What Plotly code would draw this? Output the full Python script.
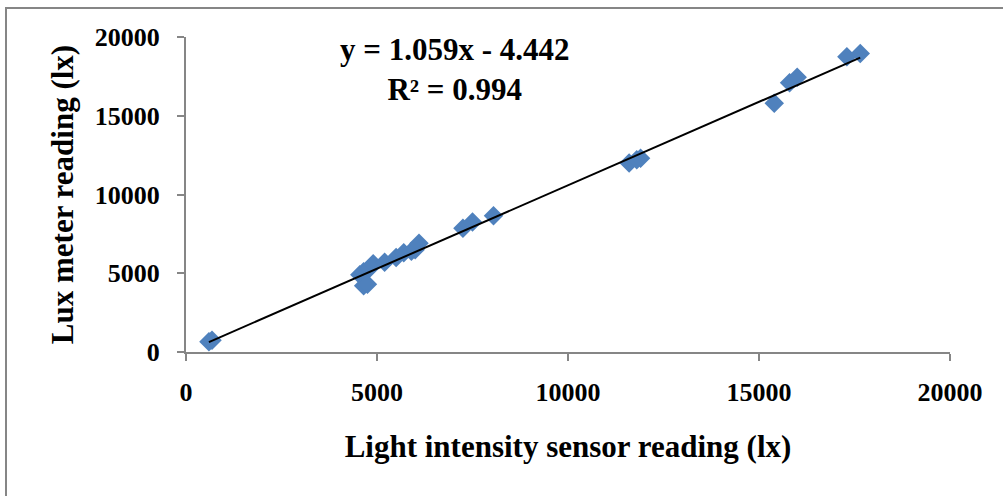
import plotly.graph_objects as go

# Calibration readings: light intensity sensor vs. lux meter (lx)
sensor_lx = [600, 680, 4550, 4650, 4650, 4750, 4800, 4900, 5200, 5500,
             5700, 5900, 6000, 6100, 7250, 7500, 8050, 11600, 11800, 11900,
             15400, 15800, 16000, 17300, 17650]
luxmeter_lx = [650, 750, 4900, 5100, 4200, 4300, 5300, 5600, 5700, 6000,
               6300, 6400, 6500, 6900, 7850, 8250, 8650, 12000, 12200, 12300,
               15800, 17100, 17450, 18750, 18950]

# Linear trendline coefficients
slope = 1.059
intercept = -4.442
r_squared = 0.994

x_ticks = [0, 5000, 10000, 15000, 20000]
y_ticks = [0, 5000, 10000, 15000, 20000]

fit_x = [min(sensor_lx), max(sensor_lx)]
fit_y = [slope * v + intercept for v in fit_x]

font_family = "Liberation Serif, Times New Roman, serif"

fig = go.Figure()
fig.add_trace(go.Scatter(
    x=sensor_lx, y=luxmeter_lx, mode="markers",
    marker=dict(symbol="diamond", size=15, color="#4F81BD",
                line=dict(width=0)),
    showlegend=False,
))
fig.add_trace(go.Scatter(
    x=fit_x, y=fit_y, mode="lines",
    line=dict(color="black", width=2),
    showlegend=False,
))

axis_common = dict(
    showgrid=False, zeroline=False, showline=True,
    linecolor="#868686", linewidth=2,
    ticks="outside", ticklen=7, tickwidth=2, tickcolor="#868686",
    tickfont=dict(family=font_family, size=26, color="black", weight="bold"),
)

fig.update_xaxes(
    range=[0, 20000], tickvals=x_ticks,
    ticktext=[f"<b>{v}</b>" for v in x_ticks],
    ticklabelstandoff=9,
    title=dict(text="<b>Light intensity sensor reading (lx)</b>",
               font=dict(family=font_family, size=31, color="black"),
               standoff=29),
    **axis_common,
)
fig.update_yaxes(
    range=[0, 20000], tickvals=y_ticks,
    ticktext=[f"<b>{v}</b>" for v in y_ticks],
    ticklabelstandoff=12,
    title=dict(text="<b>Lux meter reading (lx)</b>",
               font=dict(family=font_family, size=31, color="black"),
               standoff=12),
    **axis_common,
)

fig.add_annotation(
    xref="x", yref="y", x=7050, y=17950, yanchor="middle",
    text=f"<b>y = {slope}x - {abs(intercept)}</b><br><b>R² = {r_squared}</b>",
    showarrow=False, align="center",
    font=dict(family=font_family, size=31, color="black"),
)

# Outer chart border
fig.add_shape(
    type="rect", xref="paper", yref="paper",
    x0=-0.2356, x1=1.2, y0=-0.6, y1=1.092,
    line=dict(color="#868686", width=2), fillcolor="rgba(0,0,0,0)",
    layer="below",
)

fig.update_layout(
    width=1003, height=496,
    margin=dict(l=186, r=53, t=37, b=144),
    paper_bgcolor="white", plot_bgcolor="white",
)

fig.write_html("out.html")
